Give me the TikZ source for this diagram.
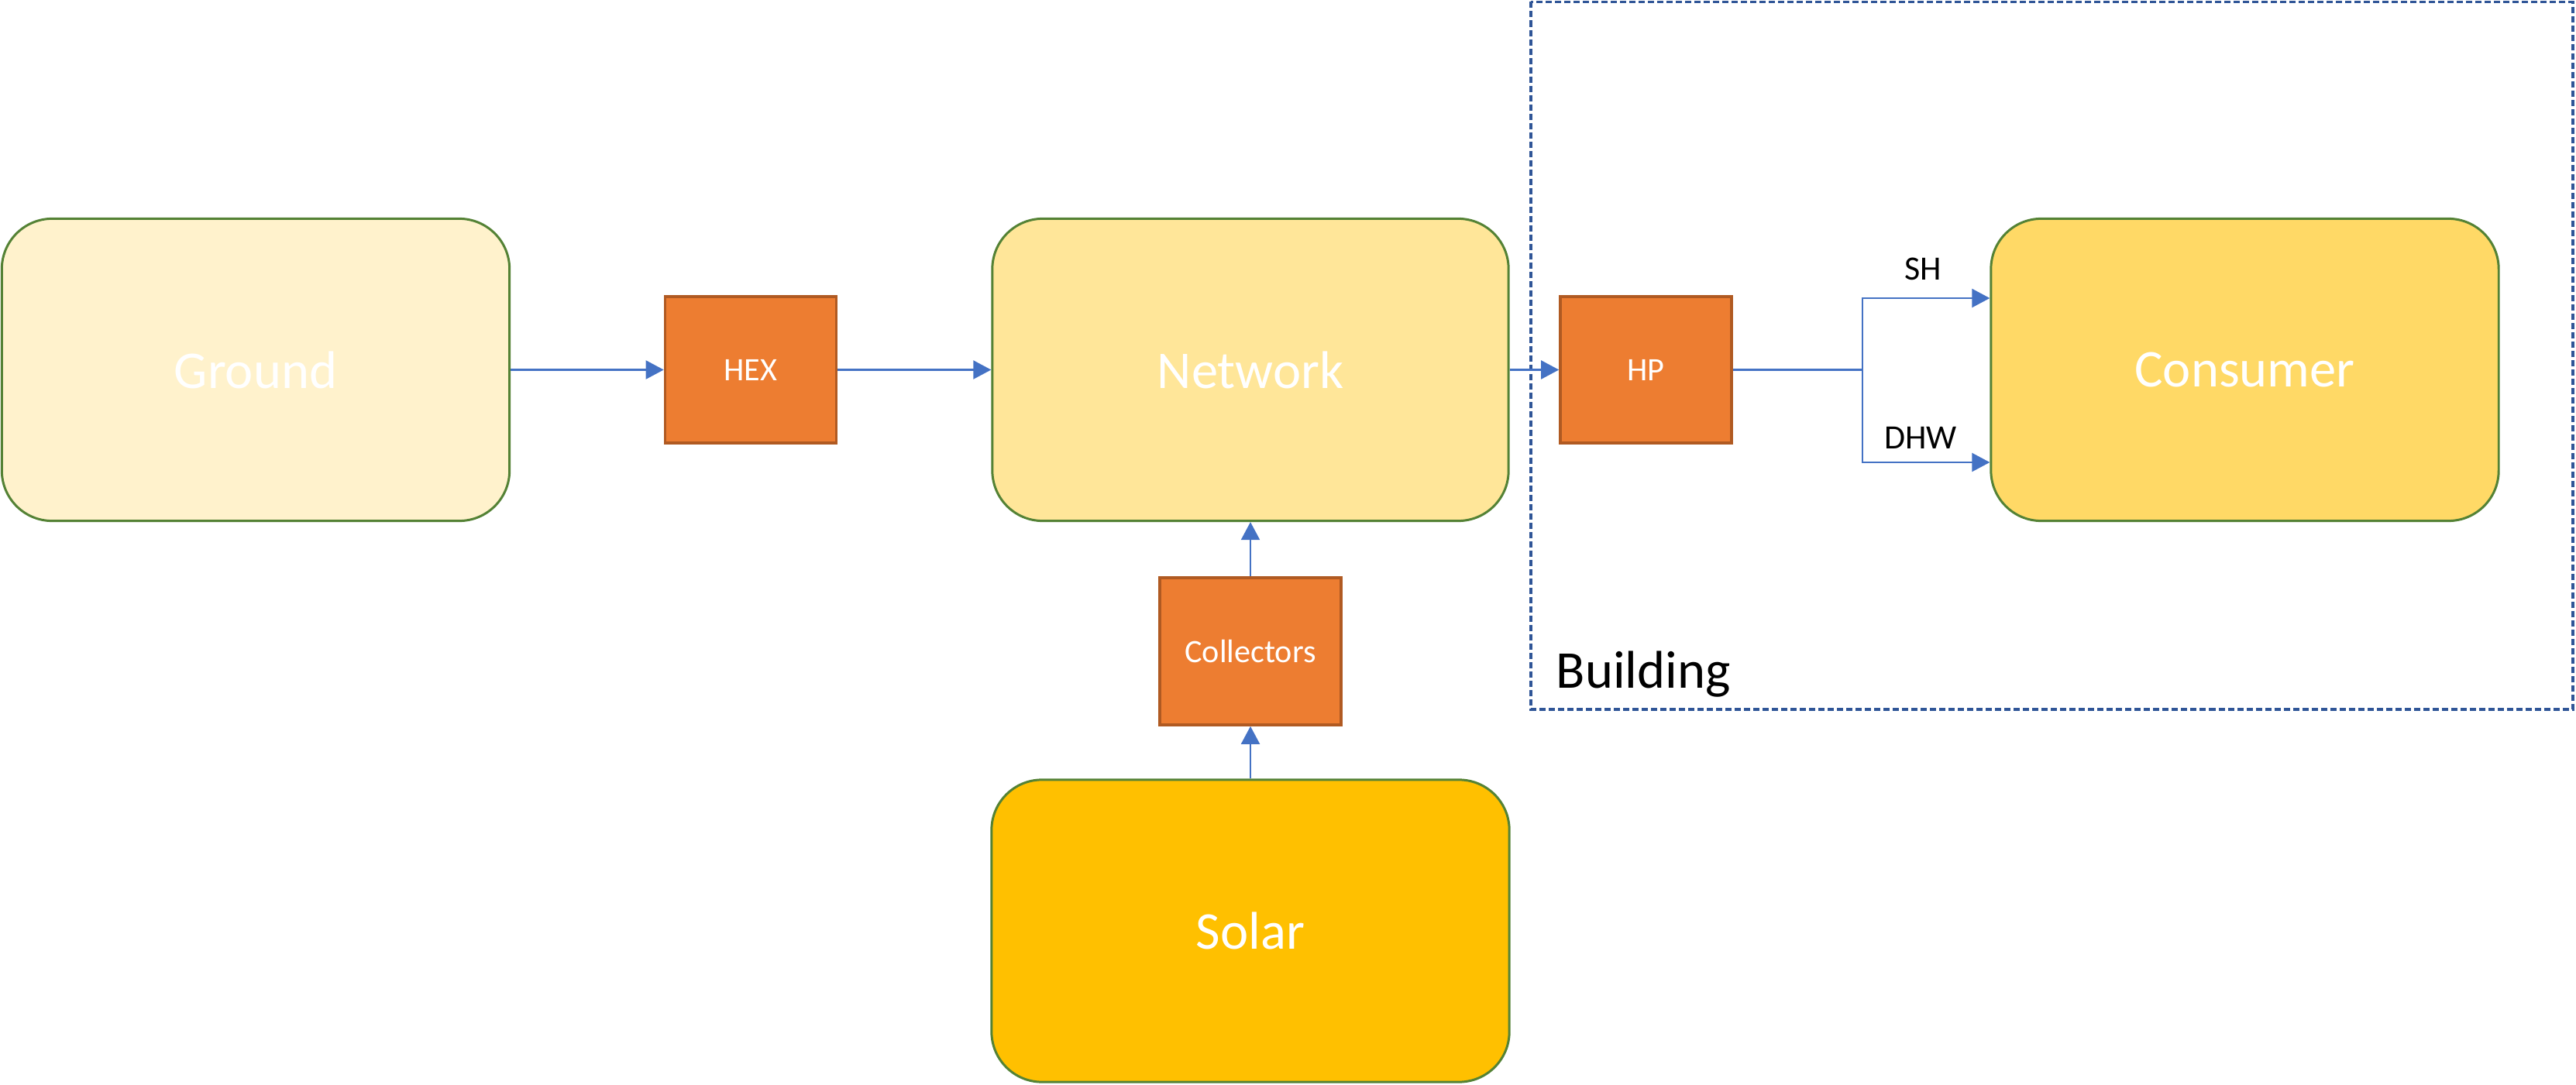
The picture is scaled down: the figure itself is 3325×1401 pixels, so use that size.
\documentclass[tikz,border=0pt]{standalone}
\usepackage{fontspec}
\setmainfont{Carlito}
\usetikzlibrary{arrows.meta,calc}
\definecolor{boxgreen}{HTML}{548235}
\definecolor{groundfill}{HTML}{FFF2CC}
\definecolor{networkfill}{HTML}{FFE699}
\definecolor{consumerfill}{HTML}{FFD966}
\definecolor{solarfill}{HTML}{FFC000}
\definecolor{orangefill}{HTML}{ED7D31}
\definecolor{orangeline}{HTML}{B05A22}
\definecolor{arrowblue}{HTML}{4472C4}
\definecolor{dashblue}{HTML}{2F5597}
\tikzset{
  bigbox/.style={draw=boxgreen, line width=0.85pt, rounded corners=0.65cm,
    minimum width=6.55cm, minimum height=3.9cm, inner sep=0pt, text=white,
    font=\fontsize{19.5}{23}\selectfont},
  unitbox/.style={draw=orangeline, fill=orangefill, line width=1pt,
    inner sep=0pt, text=white, font=\fontsize{12}{14}\selectfont},
  flow/.style={draw=arrowblue, line width=0.6pt,
    -{Triangle[length=0.23cm,width=0.24cm]}},
  mainflow/.style={draw=arrowblue, line width=1pt},
  lbl/.style={font=\fontsize{12.5}{15}\selectfont, text=black, inner sep=0pt}
}
\begin{document}
\begin{tikzpicture}[x=0.01cm,y=-0.01cm]
\useasboundingbox (0,0) rectangle (3325,1401);
% building frame
\draw[dashblue, line width=1pt, dash pattern=on 0.08cm off 0.04cm] (1976,2.5) rectangle (3321,916);
\node[anchor=base west, font=\fontsize{19.5}{23}\selectfont, inner sep=0pt] (building) at (2008,888) {Building};
% main boxes
\node[bigbox, fill=groundfill] (ground) at (330,477.5) {Ground};
\node[bigbox, fill=networkfill, minimum width=6.66cm] (network) at (1614,477.5) {Network};
\node[bigbox, fill=consumerfill] (consumer) at (2897.5,477.5) {Consumer};
\node[bigbox, fill=solarfill, minimum width=6.68cm] (solar) at (1614,1202) {Solar};
% units
\node[unitbox, minimum width=2.21cm, minimum height=1.89cm] (hex) at (969,477.5) {HEX};
\node[unitbox, minimum width=2.21cm, minimum height=1.89cm] (hp) at (2124.5,477.5) {HP};
\node[unitbox, minimum width=2.34cm, minimum height=1.90cm] (coll) at (1614,841) {Collectors};
% connectors
\draw[flow] (ground) -- (hex);
\draw[flow] (hex) -- (network);
\draw[flow] (network) -- (hp);
\draw[flow] (solar) -- (coll);
\draw[flow] (coll) -- (network);
\coordinate (junc) at (2404,477.5);
\coordinate (shy) at (0,385);
\coordinate (dhwy) at (0,597);
\draw[mainflow] (hp.east) -- (junc);
\draw[flow] (junc) |- (consumer.west |- shy);
\draw[flow] (junc) |- (consumer.west |- dhwy);
\node[lbl, anchor=base] (sh) at (2482,362) {SH};
\node[lbl, anchor=base] (dhw) at (2479,580) {DHW};
\end{tikzpicture}
\end{document}
